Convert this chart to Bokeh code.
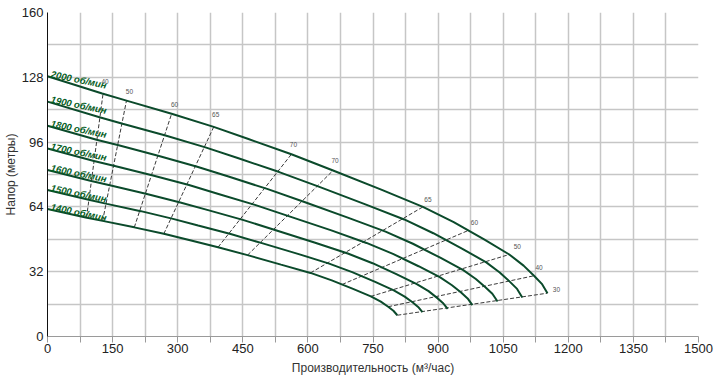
from bokeh.plotting import figure
from bokeh.models import ColumnDataSource, Range1d, FixedTicker
from bokeh.core.properties import value
from bokeh.embed import file_html
from bokeh.resources import INLINE

# ---- data ----
speeds = ["2000 об/мин", "1900 об/мин", "1800 об/мин", "1700 об/мин",
          "1600 об/мин", "1500 об/мин", "1400 об/мин"]

q_2000 = [0, 126, 182, 286, 383, 463, 562, 658, 769, 865, 936, 1006, 1064, 1097, 1121, 1139, 1152]
h_2000 = [128.5, 120, 116.5, 110, 103.5, 97.5, 90, 82, 72.5, 64, 56.5, 48, 40.5, 35, 30, 26, 21.4]
q_1900 = [0, 120, 173, 272, 364, 440, 534, 625, 731, 822, 889, 956, 1011, 1042, 1065, 1082, 1094]
h_1900 = [116.0, 108.3, 105.1, 99.3, 93.4, 88.0, 81.2, 74.0, 65.4, 57.8, 51.0, 43.3, 36.6, 31.6, 27.1, 23.5, 19.3]
q_1800 = [0, 113, 164, 257, 345, 417, 506, 592, 692, 779, 842, 905, 958, 987, 1009, 1025, 1037]
h_1800 = [104.1, 97.2, 94.4, 89.1, 83.8, 79.0, 72.9, 66.4, 58.7, 51.8, 45.8, 38.9, 32.8, 28.4, 24.3, 21.1, 17.3]
q_1700 = [0, 107, 155, 243, 326, 394, 478, 559, 654, 735, 796, 855, 904, 932, 953, 968, 979]
h_1700 = [92.8, 86.7, 84.2, 79.5, 74.8, 70.4, 65.0, 59.2, 52.4, 46.2, 40.8, 34.7, 29.3, 25.3, 21.7, 18.8, 15.5]
q_1600 = [0, 101, 146, 229, 306, 370, 450, 526, 615, 692, 749, 805, 851, 878, 897, 911, 922]
h_1600 = [82.2, 76.8, 74.6, 70.4, 66.2, 62.4, 57.6, 52.5, 46.4, 41.0, 36.2, 30.7, 25.9, 22.4, 19.2, 16.6, 13.7]
q_1500 = [0, 95, 137, 215, 287, 347, 422, 494, 577, 649, 702, 755, 798, 823, 841, 854, 864]
h_1500 = [72.3, 67.5, 65.5, 61.9, 58.2, 54.8, 50.6, 46.1, 40.8, 36.0, 31.8, 27.0, 22.8, 19.7, 16.9, 14.6, 12.0]
q_1400 = [0, 88, 127, 200, 268, 324, 393, 461, 538, 606, 655, 704, 745, 768, 785, 797, 806]
h_1400 = [63.0, 58.8, 57.1, 53.9, 50.7, 47.8, 44.1, 40.2, 35.5, 31.4, 27.7, 23.5, 19.8, 17.2, 14.7, 12.7, 10.5]

# efficiency (%) iso-lines: top end on 2000 rpm curve, bottom end on 1400 rpm curve
eff_labels = ["40", "50", "60", "65", "70", "70", "65", "60", "50", "40", "30"]
eff_q_top = [128, 182, 286, 383, 562, 658, 865, 970, 1064, 1121, 1152]
eff_h_top = [119.9, 116.5, 110, 103.5, 90, 82, 64, 52.4, 40.5, 30, 21.4]
eff_q_bot = [90, 127, 200, 268, 393, 461, 606, 679, 745, 785, 806]
eff_h_bot = [58.8, 57.1, 53.9, 50.7, 44.1, 40.2, 31.4, 25.7, 19.8, 14.7, 10.5]

x_ticks = [0, 150, 300, 450, 600, 750, 900, 1050, 1200, 1350, 1500]
y_ticks = [0, 32, 64, 96, 128, 160]

curves_q = [q_2000, q_1900, q_1800, q_1700, q_1600, q_1500, q_1400]
curves_h = [h_2000, h_1900, h_1800, h_1700, h_1600, h_1500, h_1400]

# ---- styling ----
SANS = "Liberation Sans"
CURVE = "#0b4a2b"
LABEL_GREEN = "#07601f"
GRID = "#c6c6c6"

p = figure(width=720, height=382, output_backend="svg", toolbar_location=None,
           x_range=Range1d(0, 1500), y_range=Range1d(0, 160),
           min_border_left=46, min_border_right=22, min_border_top=12, min_border_bottom=46,
           background_fill_color="white", border_fill_color="white")
p.outline_line_color = None

xt = FixedTicker(ticks=x_ticks, minor_ticks=[x_ticks[i] + 75 for i in range(len(x_ticks) - 1)])
yt = FixedTicker(ticks=y_ticks, minor_ticks=[y_ticks[i] + 16 for i in range(len(y_ticks) - 1)])
p.xaxis.ticker = xt
p.yaxis.ticker = yt
p.xgrid.ticker = xt
p.ygrid.ticker = yt
for g in (p.xgrid, p.ygrid):
    g.grid_line_color = GRID
    g.grid_line_width = 1.5
    g.minor_grid_line_color = GRID
    g.minor_grid_line_width = 1.5

p.xaxis.axis_label = "Производительность (м³/час)"
p.yaxis.axis_label = "Напор (метры)"
for ax in (p.xaxis, p.yaxis):
    ax.major_label_text_font = SANS
    ax.major_label_text_font_size = "13px"
    ax.major_label_text_color = "#222222"
    ax.axis_label_text_font = SANS
    ax.axis_label_text_font_size = "12px"
    ax.axis_label_text_font_style = "normal"
    ax.axis_label_text_color = "#333333"

p.xaxis.axis_line_color = "#9a9a9a"
p.xaxis.major_tick_line_color = "#9a9a9a"
p.xaxis.minor_tick_line_color = "#9a9a9a"
p.xaxis.major_tick_out = 6
p.xaxis.major_tick_in = 0
p.xaxis.minor_tick_out = 6
p.xaxis.minor_tick_in = 0
p.xaxis.major_label_standoff = 1
p.xaxis.axis_label_standoff = 5

p.yaxis.axis_line_color = "#111111"
p.yaxis.major_tick_out = 0
p.yaxis.major_tick_in = 0
p.yaxis.minor_tick_out = 0
p.yaxis.minor_tick_in = 0
p.yaxis.major_label_standoff = 4
p.yaxis.axis_label_standoff = 1

# efficiency dashed lines
eff_src = ColumnDataSource(dict(x0=eff_q_bot, y0=eff_h_bot, x1=eff_q_top, y1=eff_h_top, t=eff_labels,
                                dx=[2, 3, 3, 2, 2, 2, 5, 6, 8, 5, 9],
                                dy=[-12, -9, -9, -12, -10, -10, -7, -8, -8, -8, -4]))
p.segment(x0="x0", y0="y0", x1="x1", y1="y1", source=eff_src,
          line_color="#3a3a3a", line_width=1, line_dash="4 2")

# speed curves
for qs, hs in zip(curves_q, curves_h):
    p.line(qs, hs, line_color=CURVE, line_width=2)

# efficiency labels
p.text(x="x1", y="y1", text="t", source=eff_src, x_offset="dx", y_offset="dy",
       text_font=value(SANS), text_font_size="6.5px", text_color="#555555",
       text_align="center", text_baseline="middle")

# speed labels (anchored just above the start of each curve)
lab_src = ColumnDataSource(dict(x=[8] * len(speeds), y=[h[0] + 1.2 for h in curves_h], t=speeds))
p.text(x="x", y="y", text="t", source=lab_src, angle=-0.2,
       text_font=value(SANS), text_font_size="9.5px", text_font_style="bold italic",
       text_color=LABEL_GREEN, text_align="left", text_baseline="alphabetic")

open("out.html", "w").write(file_html(p, INLINE))
